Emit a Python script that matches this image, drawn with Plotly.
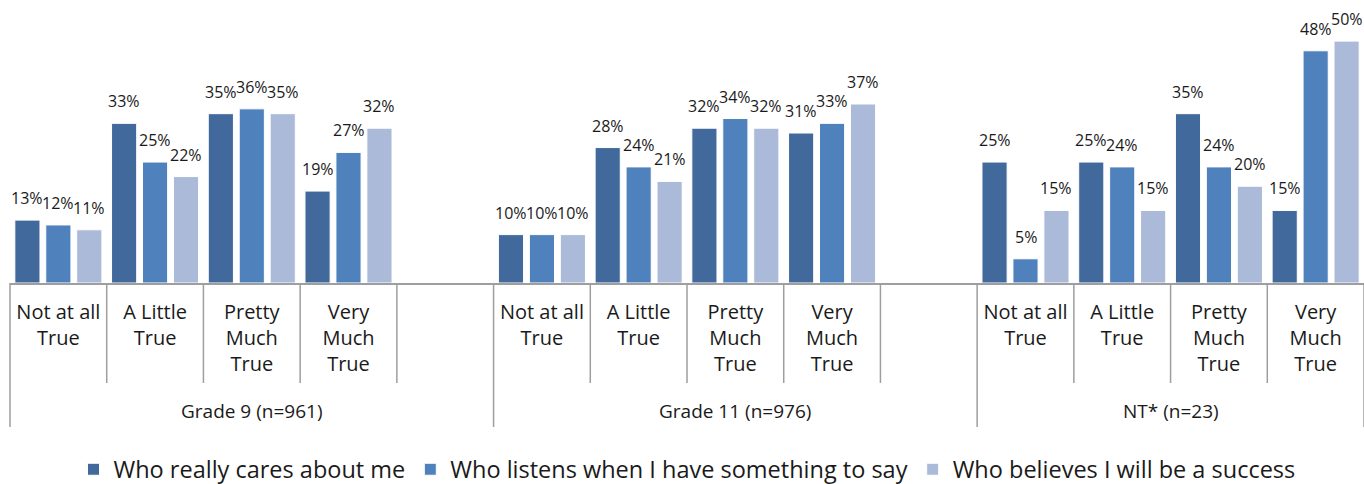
import plotly.graph_objects as go

# ---- data ----
groups = ["Grade 9 (n=961)", "Grade 11 (n=976)", "NT* (n=23)"]
slots_per_group = [5, 5, 4]          # 4 answer categories (+ one empty slot for the first two groups)
categories = ["Not at all<br>True", "A Little<br>True", "Pretty<br>Much<br>True", "Very<br>Much<br>True"]
series_names = ["Who really cares about me",
                "Who listens when I have something to say",
                "Who believes I will be a success"]
cares    = [13, 33, 35, 19,  10, 28, 32, 31,  25, 25, 35, 15]
listens  = [12, 25, 36, 27,  10, 24, 34, 33,   5, 24, 24, 48]
believes = [11, 22, 35, 32,  10, 21, 32, 37,  15, 15, 20, 50]
series_values = [cares, listens, believes]
colors = ["#41699C", "#4F81BD", "#AABAD8"]

FONT = "Open Sans"
GRID = "#9e9e9e"

# slot positions derived from indices
xs, group_starts = [], []
start = 0
for n in slots_per_group:
    group_starts.append(start)
    for c in range(len(categories)):
        xs.append(start + c)
    start += n
total_slots = start
tick_text = categories * len(groups)

BAR_W = 0.26
STEP = 0.32

fig = go.Figure()
for j, (name, vals, col) in enumerate(zip(series_names, series_values, colors)):
    fig.add_trace(go.Bar(
        x=xs, y=vals, name=name,
        width=BAR_W, offset=-BAR_W / 2 + (j - 1) * STEP,
        marker=dict(color=col, line=dict(color="white", width=1)),
    ))

annotations = []
for j, vals in enumerate(series_values):
    for xi, v in zip(xs, vals):
        annotations.append(dict(
            x=xi + (j - 1) * STEP, y=v, xref="x", yref="y",
            text=f"{v}%", showarrow=False, yanchor="bottom", yshift=9,
            font=dict(family=FONT, size=16, color="#1a1a1a")))

PLOT_H = 283
for g, (label, s, n) in enumerate(zip(groups, group_starts, slots_per_group)):
    annotations.append(dict(
        x=s + (n - 1) / 2, y=-128 / PLOT_H, xref="x", yref="paper",
        text=label, showarrow=False, yanchor="middle",
        font=dict(family=FONT, size=19, color="#1a1a1a")))

group_bounds = set(group_starts) | {total_slots}
shapes = []
for b in range(total_slots + 1):
    depth = 144 if b in group_bounds else 100
    shapes.append(dict(
        type="line", xref="paper", yref="paper",
        x0=b / total_slots, x1=b / total_slots, y0=0, y1=-depth / PLOT_H,
        line=dict(color=GRID, width=1.5)))

fig.update_layout(
    width=1364, height=484,
    margin=dict(l=10, r=0, t=0, b=201, pad=0),
    paper_bgcolor="white", plot_bgcolor="white",
    barmode="overlay",
    showlegend=True,
    legend=dict(orientation="h", x=0.5, xanchor="center",
                yref="container", y=0.03, yanchor="middle",
                font=dict(family=FONT, size=23.5, color="#1a1a1a"),
                itemwidth=30, traceorder="normal"),
    xaxis=dict(range=[-0.5, total_slots - 0.5], tickvals=xs, ticktext=tick_text,
               ticks="", showline=True, linecolor=GRID, linewidth=2,
               showgrid=False, zeroline=False, ticklabelstandoff=10,
               tickfont=dict(family=FONT, size=20, color="#1a1a1a"), tickangle=0),
    yaxis=dict(range=[0, 58.5], visible=False, showgrid=False, zeroline=False),
    annotations=annotations,
    shapes=shapes,
    font=dict(family=FONT),
)

fig.write_html("out.html",
               config={"displayModeBar": False},
               post_script="document.body.style.margin='0';document.body.style.overflow='hidden';")
